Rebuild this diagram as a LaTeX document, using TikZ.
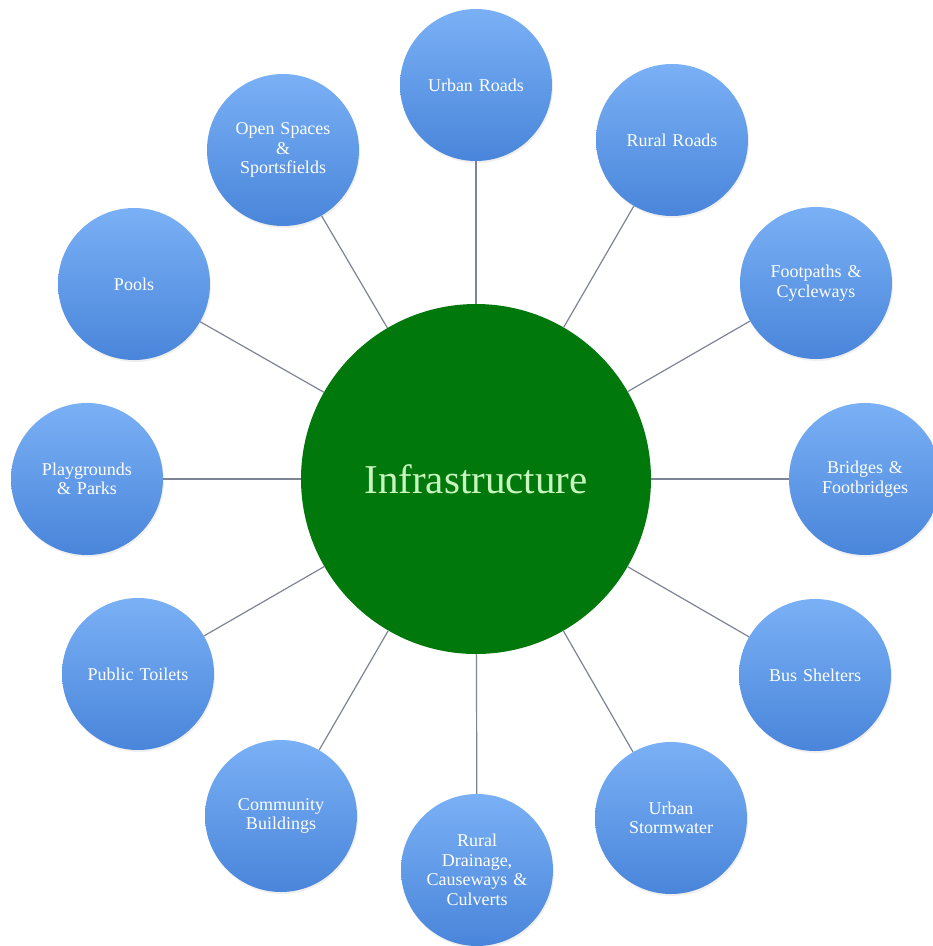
\documentclass[tikz,border=0pt]{standalone}
\usepackage{fontspec}
\setmainfont{Liberation Serif}
\usetikzlibrary{shadows}
\definecolor{bluetop}{HTML}{7AB0F5}
\definecolor{bluebot}{HTML}{4985DA}
\definecolor{hubgreen}{HTML}{00780C}
\definecolor{hubtext}{HTML}{C8F5BE}
\definecolor{linkgray}{HTML}{7E8494}
\begin{document}
\begin{tikzpicture}[x=1pt,y=-1pt,
  leaf/.style={circle, minimum size=152pt, inner sep=0pt, top color=bluetop, bottom color=bluebot,
    draw=none, text=white, align=center, text width=130pt,
    font=\fontsize{18}{19.5}\selectfont,
    drop shadow={opacity=0.12, shadow xshift=1pt, shadow yshift=-2pt}},
  hub/.style={circle, minimum size=350pt, inner sep=0pt, fill=hubgreen, draw=none,
    text=hubtext, font=\fontsize{41}{43}\selectfont},
  link/.style={draw=linkgray, line width=1.2pt}]
\fill[white] (0,0) rectangle (933,946);
\useasboundingbox (0,0) rectangle (933,946);

\node[hub] (hub) at (476,479) {Infrastructure};

\node[leaf] (ur) at (476,85)  {Urban Roads};
\node[leaf] (rr) at (672,140) {Rural Roads};
\node[leaf] (fc) at (816,283) {Footpaths \&\\Cycleways};
\node[leaf] (bf) at (865,479) {Bridges \&\\Footbridges};
\node[leaf] (bs) at (815,675) {Bus Shelters};
\node[leaf] (us) at (671,818) {Urban\\Stormwater};
\node[leaf] (rd) at (477,870) {Rural\\Drainage,\\Causeways \&\\Culverts};
\node[leaf] (cb) at (281,816) {Community\\Buildings};
\node[leaf] (pt) at (138,674) {Public Toilets};
\node[leaf] (pp) at (87,479)  {Playgrounds\\\& Parks};
\node[leaf] (po) at (134,284) {Pools};
\node[leaf] (os) at (283,150) {Open Spaces\\\&\\Sportsfields};

\foreach \n in {ur,rr,fc,bf,bs,us,rd,cb,pt,pp,po,os}
  \draw[link] (hub) -- (\n);
\end{tikzpicture}
\end{document}
